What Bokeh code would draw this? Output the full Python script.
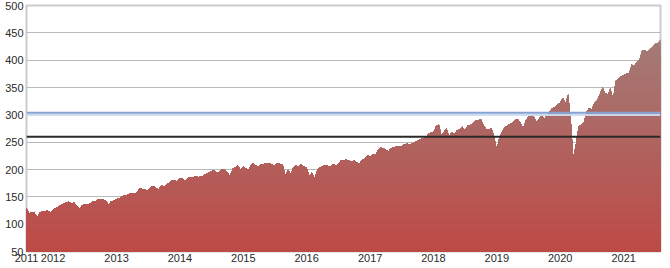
import numpy as np
from datetime import datetime
from bokeh.plotting import figure
from bokeh.models import FixedTicker, Span, BoxAnnotation, Range1d
from bokeh.embed import file_html
from bokeh.resources import INLINE

# Semi-monthly closes (1st and 16th of each month), Aug 2011 .. Aug 2021
prices = [
    # 2011 Aug-Dec
    130, 120, 122, 121, 112, 122, 123, 123, 125, 121,
    # 2012
    126, 129, 132, 135, 137, 140, 141, 137, 140, 133, 128, 134,
    136, 135, 138, 141, 141, 146, 144, 145, 142, 136, 142, 143,
    # 2013
    146, 147, 151, 152, 152, 156, 157, 155, 159, 166, 164, 163,
    161, 168, 170, 166, 164, 171, 168, 172, 176, 180, 181, 178,
    # 2014
    184, 184, 178, 184, 186, 185, 188, 186, 188, 188, 192, 194,
    197, 198, 193, 195, 200, 200, 195, 187, 201, 204, 207, 199,
    # 2015
    205, 202, 200, 209, 211, 207, 206, 210, 210, 212, 211, 209,
    207, 212, 210, 209, 188, 199, 192, 203, 208, 204, 210, 205,
    # 2016
    204, 188, 194, 183, 198, 203, 206, 208, 207, 205, 210, 207,
    209, 216, 217, 218, 217, 214, 216, 213, 211, 218, 219, 226,
    # 2017
    224, 227, 227, 235, 240, 239, 236, 233, 239, 240, 243, 243,
    241, 246, 247, 246, 247, 250, 252, 255, 257, 258, 264, 268,
    # 2018
    268, 279, 282, 262, 268, 275, 261, 268, 264, 272, 273, 278,
    271, 280, 281, 284, 290, 290, 292, 281, 273, 273, 276, 260,
    # 2019
    236, 260, 270, 277, 280, 283, 285, 291, 292, 286, 275, 289,
    296, 300, 297, 288, 292, 300, 293, 299, 306, 312, 314, 319,
    # 2020
    322, 331, 321, 337, 296, 222, 247, 278, 282, 286, 305, 312,
    310, 321, 326, 337, 350, 340, 337, 348, 330, 362, 366, 370,
    # 2021 Jan-Jul + Aug 1
    373, 375, 376, 392, 389, 396, 400, 417, 418, 416, 420, 424,
    430, 431, 438,
]

year_labels = ["2011", "2012", "2013", "2014", "2015", "2016",
               "2017", "2018", "2019", "2020", "2021"]
y_ticks = [50, 100, 150, 200, 250, 300, 350, 400, 450, 500]
blue_level = 304
blue_band = (298, 302)
black_level = 260

# dates for the semi-monthly samples
dates = []
yr, mo = 2011, 8
for i in range(len(prices)):
    dates.append(datetime(yr, mo, 1 if i % 2 == 0 else 16))
    if i % 2 == 1:
        mo += 1
        if mo > 12:
            mo = 1
            yr += 1

x = np.array(dates, dtype="datetime64[ms]")
yv = np.array(prices, dtype=float)

p = figure(width=670, height=268, x_axis_type="datetime",
           output_backend="svg", toolbar_location=None,
           min_border_left=26, min_border_right=10,
           min_border_top=5, min_border_bottom=17)
p.x_range = Range1d(x[0], x[-1])
p.y_range = Range1d(50, 500)

# vertical gradient fill approximated with stacked areas
bottom_rgb = np.array([190, 74, 70])
top_rgb = np.array([160, 128, 124])
levels = np.arange(50, 451, 5)[::-1]
for lv in levels:
    t = (lv - 50) / 420.0
    c = bottom_rgb + (top_rgb - bottom_rgb) * t
    col = "#%02x%02x%02x" % tuple(int(round(v)) for v in c)
    p.varea(x=x, y1=np.full_like(yv, 50.0), y2=np.minimum(yv, lv + 5),
            fill_color=col, fill_alpha=1.0)

p.add_layout(BoxAnnotation(bottom=blue_band[0], top=blue_band[1],
                           fill_color="#cfdcef", fill_alpha=0.95,
                           line_color=None))
p.add_layout(Span(location=blue_level, dimension="width",
                  line_color="#86a3d3", line_width=2))
p.add_layout(Span(location=black_level, dimension="width",
                  line_color="#2a2a2a", line_width=2))

# axes
x_ticks = [float(x[0].astype("int64"))] + [
    float(np.datetime64(f"{yy}-01-01", "ms").astype("int64"))
    for yy in range(2012, 2022)]
p.xaxis.ticker = FixedTicker(ticks=x_ticks)
p.xaxis.major_label_overrides = {t: lab for t, lab in zip(x_ticks, year_labels)}
p.yaxis.ticker = FixedTicker(ticks=y_ticks)

for ax in (p.xaxis[0], p.yaxis[0]):
    ax.axis_line_color = None
    ax.major_tick_line_color = None
    ax.minor_tick_line_color = None
    ax.major_tick_out = 0
    ax.major_tick_in = 0
    ax.minor_tick_out = 0
    ax.minor_tick_in = 0
    ax.major_label_text_font = "Liberation Sans"
    ax.major_label_text_font_size = "11px"
    ax.major_label_text_color = "#2a2a2a"
p.yaxis.major_label_standoff = 3
p.xaxis.major_label_standoff = 2

p.xgrid.grid_line_color = None
p.ygrid.ticker = FixedTicker(ticks=y_ticks)
p.ygrid.grid_line_color = "#b8b8b8"
p.ygrid.grid_line_width = 1
p.outline_line_color = "#cccccc"
p.outline_line_width = 2

open("out.html", "w").write(file_html(p, INLINE))
